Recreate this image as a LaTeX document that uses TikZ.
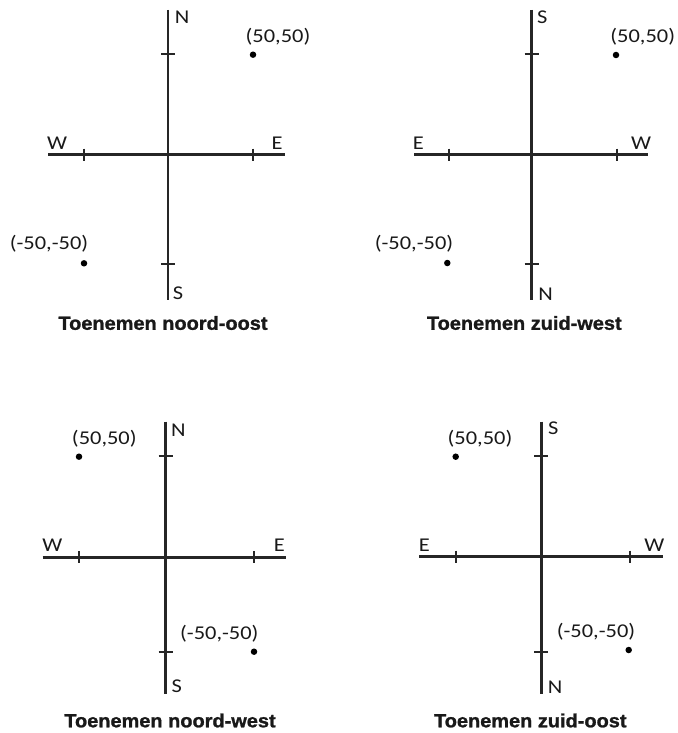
\documentclass[tikz,border=0pt]{standalone}
\usepackage{fontspec}
\newfontfamily\lblfont[FakeStretch=1.15]{Carlito}
\newfontfamily\ttlfont[FakeStretch=1.05,FakeBold=1.2]{Liberation Sans}
\tikzset{
  axisline/.style={line width=2.5pt, draw=black!85},
  tickmark/.style={line width=2.2pt, draw=black!85},
  lbl/.style={font=\lblfont\fontsize{19.5}{19.5}\selectfont, text=black!90, inner sep=0pt},
  ttl/.style={font=\ttlfont\bfseries\fontsize{19}{19}\selectfont, text=black!90, inner sep=0pt},
  pt/.style={circle, fill=black, minimum size=6.5pt, inner sep=0pt}
}
\begin{document}
\begin{tikzpicture}[x=1pt,y=-1pt]
\useasboundingbox[fill=white] (0,0) rectangle (677,733);
% ---------- Panel 1: noord-oost ----------
\coordinate (a1t) at (168,10);   \coordinate (a1b) at (168,300);
\coordinate (a1l) at (48,154.5); \coordinate (a1r) at (284.5,154.5);
\draw[axisline] (a1t) -- (a1b);
\draw[axisline] (a1l) -- (a1r);
\draw[tickmark] (84.3,148.5) -- (84.3,160.5);
\draw[tickmark] (252.7,148.5) -- (252.7,160.5);
\draw[tickmark] (161,54) -- (175,54);
\draw[tickmark] (161,264) -- (175,264);
\node[pt] (d1a) at (253,54.7) {};
\node[pt] (d1b) at (84,263.3) {};
\node[lbl] (n1) at (182,17) {N};
\node[lbl] (s1) at (178,293) {S};
\node[lbl] (w1) at (57,143) {W};
\node[lbl] (e1) at (277,143) {E};
\node[lbl] (c1a) at (278,37) {(50,50)};
\node[lbl] (c1b) at (49,244) {(-50,-50)};
\node[ttl] (t1) at (163,323) {Toenemen noord-oost};
% ---------- Panel 2: zuid-west ----------
\coordinate (a2t) at (531.7,10);   \coordinate (a2b) at (531.7,300);
\coordinate (a2l) at (414,154.5);  \coordinate (a2r) at (648.3,154.5);
\draw[axisline] (a2t) -- (a2b);
\draw[axisline] (a2l) -- (a2r);
\draw[tickmark] (448.7,148.5) -- (448.7,160.5);
\draw[tickmark] (617.3,148.5) -- (617.3,160.5);
\draw[tickmark] (524.7,54) -- (538.7,54);
\draw[tickmark] (524.7,264) -- (538.7,264);
\node[pt] (d2a) at (616,55) {};
\node[pt] (d2b) at (447.3,263) {};
\node[lbl] (n2) at (545.7,294) {N};
\node[lbl] (s2) at (542.3,17) {S};
\node[lbl] (w2) at (641,143) {W};
\node[lbl] (e2) at (418.3,143) {E};
\node[lbl] (c2a) at (642.7,37) {(50,50)};
\node[lbl] (c2b) at (414,244) {(-50,-50)};
\node[ttl] (t2) at (524.3,323) {Toenemen zuid-west};
% ---------- Panel 3: noord-west ----------
\coordinate (a3t) at (165.7,421.7); \coordinate (a3b) at (165.7,694);
\coordinate (a3l) at (42.7,557.3);  \coordinate (a3r) at (285.7,557.3);
\draw[axisline] (a3t) -- (a3b);
\draw[axisline] (a3l) -- (a3r);
\draw[tickmark] (79.3,551.3) -- (79.3,563.3);
\draw[tickmark] (254,551.3) -- (254,563.3);
\draw[tickmark] (158.7,456) -- (172.7,456);
\draw[tickmark] (158.7,652.3) -- (172.7,652.3);
\node[pt] (d3a) at (79,456.7) {};
\node[pt] (d3b) at (254,651.7) {};
\node[lbl] (n3) at (178.3,430.7) {N};
\node[lbl] (s3) at (176.7,686.7) {S};
\node[lbl] (w3) at (52.3,545) {W};
\node[lbl] (e3) at (279.3,545) {E};
\node[lbl] (c3a) at (104.3,438.3) {(50,50)};
\node[lbl] (c3b) at (219.3,633.3) {(-50,-50)};
\node[ttl] (t3) at (170,720.5) {Toenemen noord-west};
% ---------- Panel 4: zuid-oost ----------
\coordinate (a4t) at (541.3,421.7); \coordinate (a4b) at (541.3,694);
\coordinate (a4l) at (419.3,556.7); \coordinate (a4r) at (662.7,556.7);
\draw[axisline] (a4t) -- (a4b);
\draw[axisline] (a4l) -- (a4r);
\draw[tickmark] (455.7,550.7) -- (455.7,562.7);
\draw[tickmark] (630,550.7) -- (630,562.7);
\draw[tickmark] (534.3,456) -- (548.3,456);
\draw[tickmark] (534.3,652) -- (548.3,652);
\node[pt] (d4a) at (455.7,456.7) {};
\node[pt] (d4b) at (628.7,650) {};
\node[lbl] (n4) at (555,687.3) {N};
\node[lbl] (s4) at (553.3,428.3) {S};
\node[lbl] (w4) at (654.3,545.7) {W};
\node[lbl] (e4) at (424.3,545.7) {E};
\node[lbl] (c4a) at (480,438.3) {(50,50)};
\node[lbl] (c4b) at (596,631.7) {(-50,-50)};
\node[ttl] (t4) at (530.3,720.5) {Toenemen zuid-oost};
\end{tikzpicture}
\end{document}
